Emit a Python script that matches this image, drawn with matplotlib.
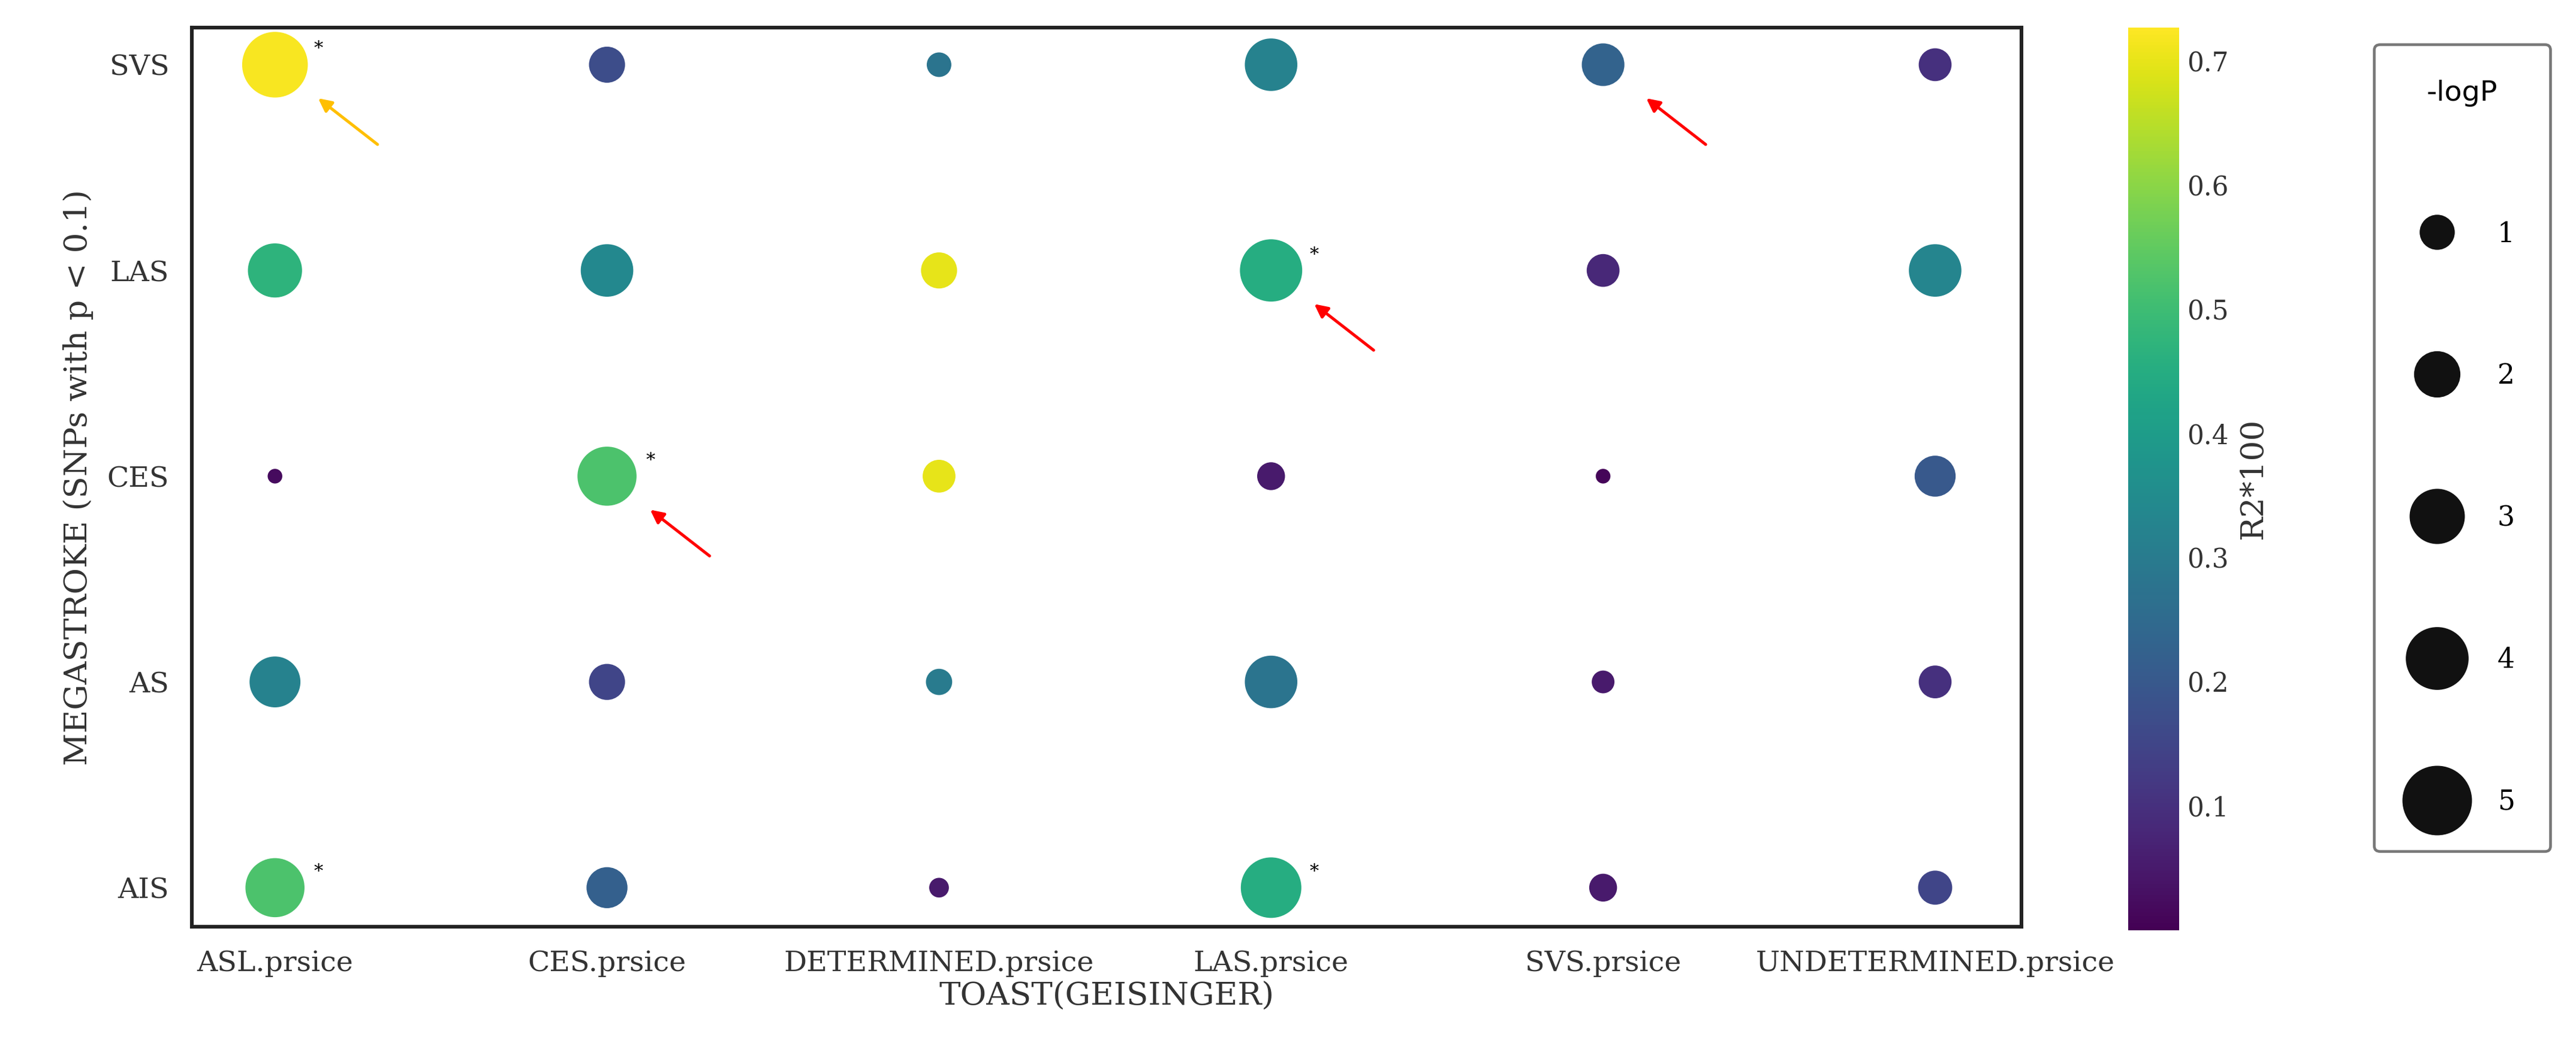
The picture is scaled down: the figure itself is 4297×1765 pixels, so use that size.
import matplotlib
matplotlib.use('Agg')
import matplotlib.pyplot as plt
from matplotlib.lines import Line2D
import numpy

# data
x_labels = ['ASL.prsice', 'CES.prsice', 'DETERMINED.prsice', 'LAS.prsice', 'SVS.prsice', 'UNDETERMINED.prsice']
y_labels = ['AIS', 'AS', 'CES', 'LAS', 'SVS']

# R2*100, rows = y_labels (bottom to top)
r2 = [
    [0.52, 0.22, 0.05, 0.45, 0.05, 0.15],
    [0.32, 0.15, 0.30, 0.28, 0.05, 0.10],
    [0.02, 0.52, 0.70, 0.05, 0.01, 0.20],
    [0.47, 0.34, 0.70, 0.45, 0.08, 0.33],
    [0.72, 0.17, 0.28, 0.32, 0.23, 0.10],
]
# -logP
logp = [
    [3.8, 1.7, 0.2, 4.0, 0.65, 1.1],
    [2.75, 1.26, 0.55, 2.95, 0.35, 1.0],
    [0.0, 3.8, 1.0, 0.65, 0.0, 1.7],
    [3.15, 2.95, 1.26, 4.25, 1.0, 2.95],
    [4.75, 1.26, 0.45, 2.95, 1.86, 1.0],
]
stars = [(0, 4), (3, 3), (1, 2), (0, 0), (3, 0)]   # (x, y)
arrows = [(0, 4, '#ffbf00'), (4, 4, 'red'), (3, 3, 'red'), (1, 2, 'red')]
legend_vals = [1, 2, 3, 4, 5]

def msize(p):
    return 166 * (numpy.asarray(p) + 0.25)

plt.rcParams['font.family'] = 'DejaVu Serif'

fig = plt.figure(figsize=(15.7, 6.45), dpi=273.7)
ax = fig.add_axes([117/1570, 80/645, 1115/1570, 548/645])

xs, ys, cs, ss = [], [], [], []
for j in range(len(y_labels)):
    for i in range(len(x_labels)):
        xs.append(i); ys.append(j); cs.append(r2[j][i]); ss.append(logp[j][i])

sc = ax.scatter(xs, ys, c=cs, s=msize(ss), cmap='viridis', vmin=0, vmax=0.727, edgecolors='none')

for (i, j) in stars:
    ax.annotate('*', (i, j), xytext=(19, 5), textcoords='offset points', fontsize=8,
                color='black', ha='center')

for (i, j, col) in arrows:
    ax.annotate('', xy=(i, j), xytext=(45, -35), textcoords='offset points',
                arrowprops=dict(arrowstyle='-|>', color=col, lw=1.3, shrinkA=0, shrinkB=24,
                                mutation_scale=12))

ax.set_xlim(-0.25, 5.26)
ax.set_ylim(-0.19, 4.18)
ax.set_xticks(range(len(x_labels)))
ax.set_xticklabels(x_labels, fontsize=12.5, color='#333333')
ax.set_yticks(range(len(y_labels)))
ax.set_yticklabels(y_labels, fontsize=12.5, color='#333333')
ax.tick_params(length=0, pad=10)
ax.set_xlabel('TOAST(GEISINGER)', fontsize=14, color='#333333', labelpad=2)
ax.set_ylabel('MEGASTROKE (SNPs with p < 0.1)', fontsize=14, color='#333333', labelpad=6)
for sp in ax.spines.values():
    sp.set_linewidth(1.6)
    sp.set_color('#222222')

cax = fig.add_axes([1297/1570, 78/645, 31/1570, 550/645])
cb = fig.colorbar(sc, cax=cax)
cb.set_ticks([0.1, 0.2, 0.3, 0.4, 0.5, 0.6, 0.7])
cb.ax.tick_params(labelsize=11.5, length=0, colors='#333333')
cb.outline.set_visible(False)
cb.set_label('R2*100', fontsize=14, color='#333333', labelpad=4)

handles = [Line2D([], [], marker='o', linestyle='none', color='#111111',
                  markersize=numpy.sqrt(msize(v))) for v in legend_vals]
leg = fig.legend(handles, [str(v) for v in legend_vals], title='-logP',
                 loc='upper left', bbox_to_anchor=(1447/1570, 1 - 27/645),
                 frameon=True, fancybox=True, labelspacing=4.2, borderpad=1.3,
                 handletextpad=1.2, borderaxespad=0, fontsize=12, title_fontsize=12.5)
leg.get_title().set_family('DejaVu Sans')
leg._legend_box.sep = 50
leg.get_frame().set_edgecolor('#555555')
leg.get_frame().set_linewidth(1.2)

fig.savefig('out.png', dpi=273.7, facecolor='white')
